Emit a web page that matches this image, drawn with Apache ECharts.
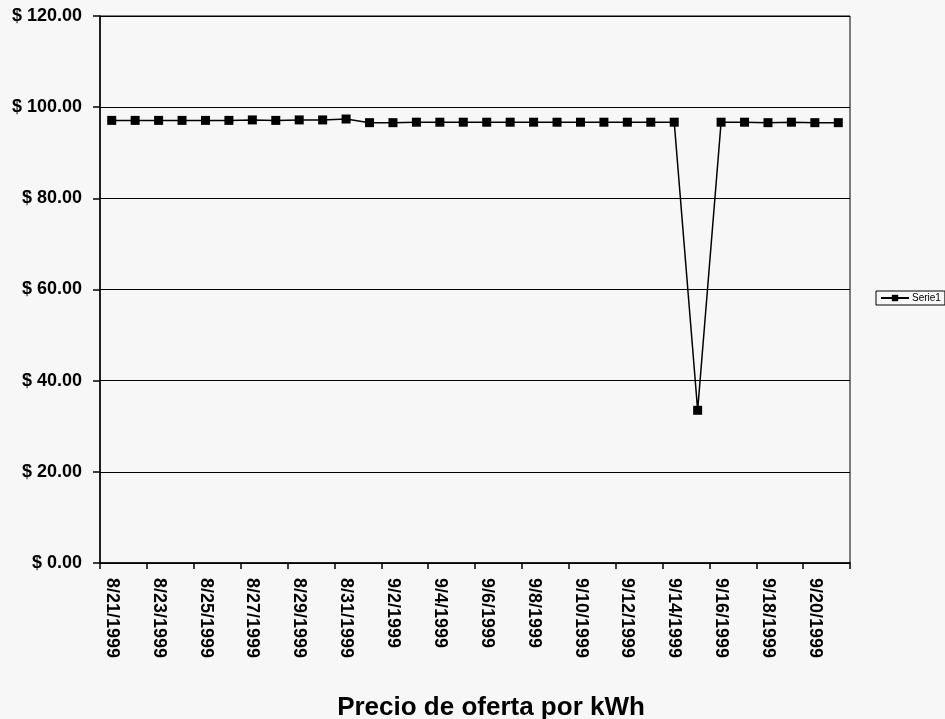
<!DOCTYPE html>
<html>
<head>
<meta charset="utf-8">
<script src="https://cdn.jsdelivr.net/npm/echarts@6/dist/echarts.min.js"></script>
<style>
html,body{margin:0;padding:0;background:#f7f7f7;}
#chart{width:945px;height:719px;}
</style>
</head>
<body>
<div id="chart"></div>
<script>
const categories = [
  '8/21/1999','8/22/1999','8/23/1999','8/24/1999','8/25/1999','8/26/1999','8/27/1999','8/28/1999',
  '8/29/1999','8/30/1999','8/31/1999','9/1/1999','9/2/1999','9/3/1999','9/4/1999','9/5/1999',
  '9/6/1999','9/7/1999','9/8/1999','9/9/1999','9/10/1999','9/11/1999','9/12/1999','9/13/1999',
  '9/14/1999','9/15/1999','9/16/1999','9/17/1999','9/18/1999','9/19/1999','9/20/1999','9/21/1999'
];
const serie1 = [
  97.1, 97.1, 97.1, 97.1, 97.1, 97.1, 97.2, 97.1,
  97.2, 97.2, 97.4, 96.6, 96.6, 96.7, 96.7, 96.7,
  96.7, 96.7, 96.7, 96.7, 96.7, 96.7, 96.7, 96.7,
  96.7, 33.5, 96.7, 96.7, 96.6, 96.7, 96.6, 96.6
];
const seriesName = 'Serie1';
const chartTitle = 'Precio de oferta por kWh';

const chart = echarts.init(document.getElementById('chart'), null, {renderer: 'canvas'});
const font = 'Liberation Sans, Arial, sans-serif';
chart.setOption({
  backgroundColor: '#f7f7f7',
  animation: false,
  title: {
    text: chartTitle,
    left: 486, top: 690, textAlign: 'center',
    textStyle: {fontFamily: font, fontWeight: 'bold', fontSize: 26, color: '#000'}
  },
  legend: {
    data: [seriesName],
    left: 876, top: 291,
    orient: 'vertical',
    borderColor: '#000', borderWidth: 1,
    padding: [2, 4, 2, 4],
    itemWidth: 28, itemHeight: 8,
    textStyle: {fontFamily: font, fontSize: 10, color: '#000', padding: [0, 0, 0, -2]}
  },
  grid: {
    left: 100, right: 95, top: 16, bottom: 156,
    show: true, borderColor: '#000', borderWidth: 1, backgroundColor: 'transparent'
  },
  xAxis: {
    type: 'category',
    data: categories,
    boundaryGap: true,
    axisLine: {lineStyle: {color: '#000', width: 1.5}},
    axisTick: {show: true, interval: 1, length: 6, lineStyle: {color: '#000', width: 1.5}},
    axisLabel: {
      interval: 1, rotate: -90, margin: 15,
      fontFamily: font, fontWeight: 'bold', fontSize: 18, color: '#000'
    }
  },
  yAxis: {
    type: 'value',
    min: 0, max: 120, interval: 20,
    axisLine: {show: true, lineStyle: {color: '#000', width: 1.5}},
    axisTick: {show: true, length: 7, lineStyle: {color: '#000', width: 1.5}},
    splitLine: {lineStyle: {color: '#000', width: 1}},
    axisLabel: {
      margin: 18,
      fontFamily: font, fontWeight: 'bold', fontSize: 18, color: '#000',
      formatter: v => '$ ' + v.toFixed(2)
    }
  },
  series: [{
    name: seriesName,
    type: 'line',
    data: serie1,
    symbol: 'rect',
    symbolSize: 9,
    itemStyle: {color: '#000'},
    lineStyle: {color: '#000', width: 1.5}
  }]
});
</script>
</body>
</html>
